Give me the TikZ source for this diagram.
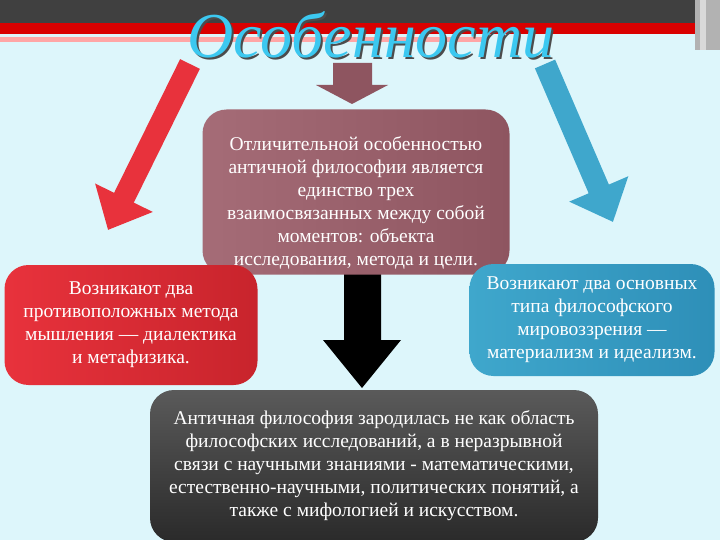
\documentclass[tikz,border=0pt]{standalone}
\usepackage{fontspec}
\setmainfont{Liberation Serif}
\usetikzlibrary{arrows.meta}
\definecolor{bgc}{HTML}{DDF6FB}
\definecolor{mauve}{HTML}{8E5560}
\definecolor{mauveL}{HTML}{A56C77}
\definecolor{redA}{HTML}{E8323C}
\definecolor{redB}{HTML}{C8242C}
\definecolor{blueA}{HTML}{3FA7CC}
\definecolor{blueB}{HTML}{2E8FB8}
\definecolor{darkA}{HTML}{2A2A2A}
\definecolor{darkB}{HTML}{5A5A5A}
\definecolor{titlec}{HTML}{3CC8F0}
\tikzset{
 box/.style={rounded corners=24pt,text=white,align=center,font=\fontsize{19.5}{23}\selectfont,inner sep=4pt}
}
\begin{document}
\begin{tikzpicture}[x=1pt,y=-1pt]
\useasboundingbox (0,0) rectangle (720,540);
\fill[bgc] (0,0) rectangle (720,540);
\fill[black!75] (0,0) rectangle (695,23);
\fill[red!85!black] (0,23) rectangle (695,34);
\fill[red!35] (0,37) rectangle (485,42);
\fill[gray!60] (695,0) rectangle (720,50);
\fill[gray!30] (700,0) rectangle (706,50);
% title
\node[font=\itshape\fontsize{64}{64}\selectfont,text=black!70] at (373,37) {Особенности};
\node[font=\itshape\fontsize{64}{64}\selectfont,text=titlec] (title) at (371,35) {Особенности};
% center arrow
\fill[mauve] (333,63) -- (372,63) -- (372,85) -- (388,85) -- (352,104) -- (316,85) -- (333,85) -- cycle;
% red & blue arrows
\coordinate (rs) at (190,64);
\coordinate (re) at (108,230);
\coordinate (bs) at (545,64);
\coordinate (be) at (613,222);
\draw[redA,line width=22pt,-{Triangle[length=36pt,width=62pt]}] (rs) -- (re);
\draw[blueA,line width=22pt,-{Triangle[length=36pt,width=62pt]}] (bs) -- (be);
% black arrow
\fill[black] (344,270) -- (381,270) -- (381,340) -- (401,340) -- (362,388) -- (323,340) -- (344,340) -- cycle;
% boxes
\node[box,left color=mauveL,right color=mauve,minimum width=307pt,minimum height=165pt] (c) at (356,192) {};
\node[text=white,align=center,font=\fontsize{19.5}{23}\selectfont] (ct) at (356,203) {Отличительной особенностью\\античной философии является\\единство трех\\взаимосвязанных между собой\\моментов: объекта\\исследования, метода и цели.};
\node[box,left color=redA,right color=redB,minimum width=253pt,minimum height=120pt] (l) at (131,325) {Возникают два\\противоположных метода\\мышления — диалектика\\и метафизика.};
\node[box,left color=blueA,right color=blueB,minimum width=245pt,minimum height=112pt] (r) at (592,320) {Возникают два основных\\типа философского\\мировоззрения —\\материализм и идеализм.};
\node[box,top color=darkB,bottom color=darkA,minimum width=448pt,minimum height=152pt] (b) at (374,466) {Античная философия зародилась не как область\\философских исследований, а в неразрывной\\связи с научными знаниями - математическими,\\естественно-научными, политических понятий, а\\также с мифологией и искусством.};
\end{tikzpicture}
\end{document}
